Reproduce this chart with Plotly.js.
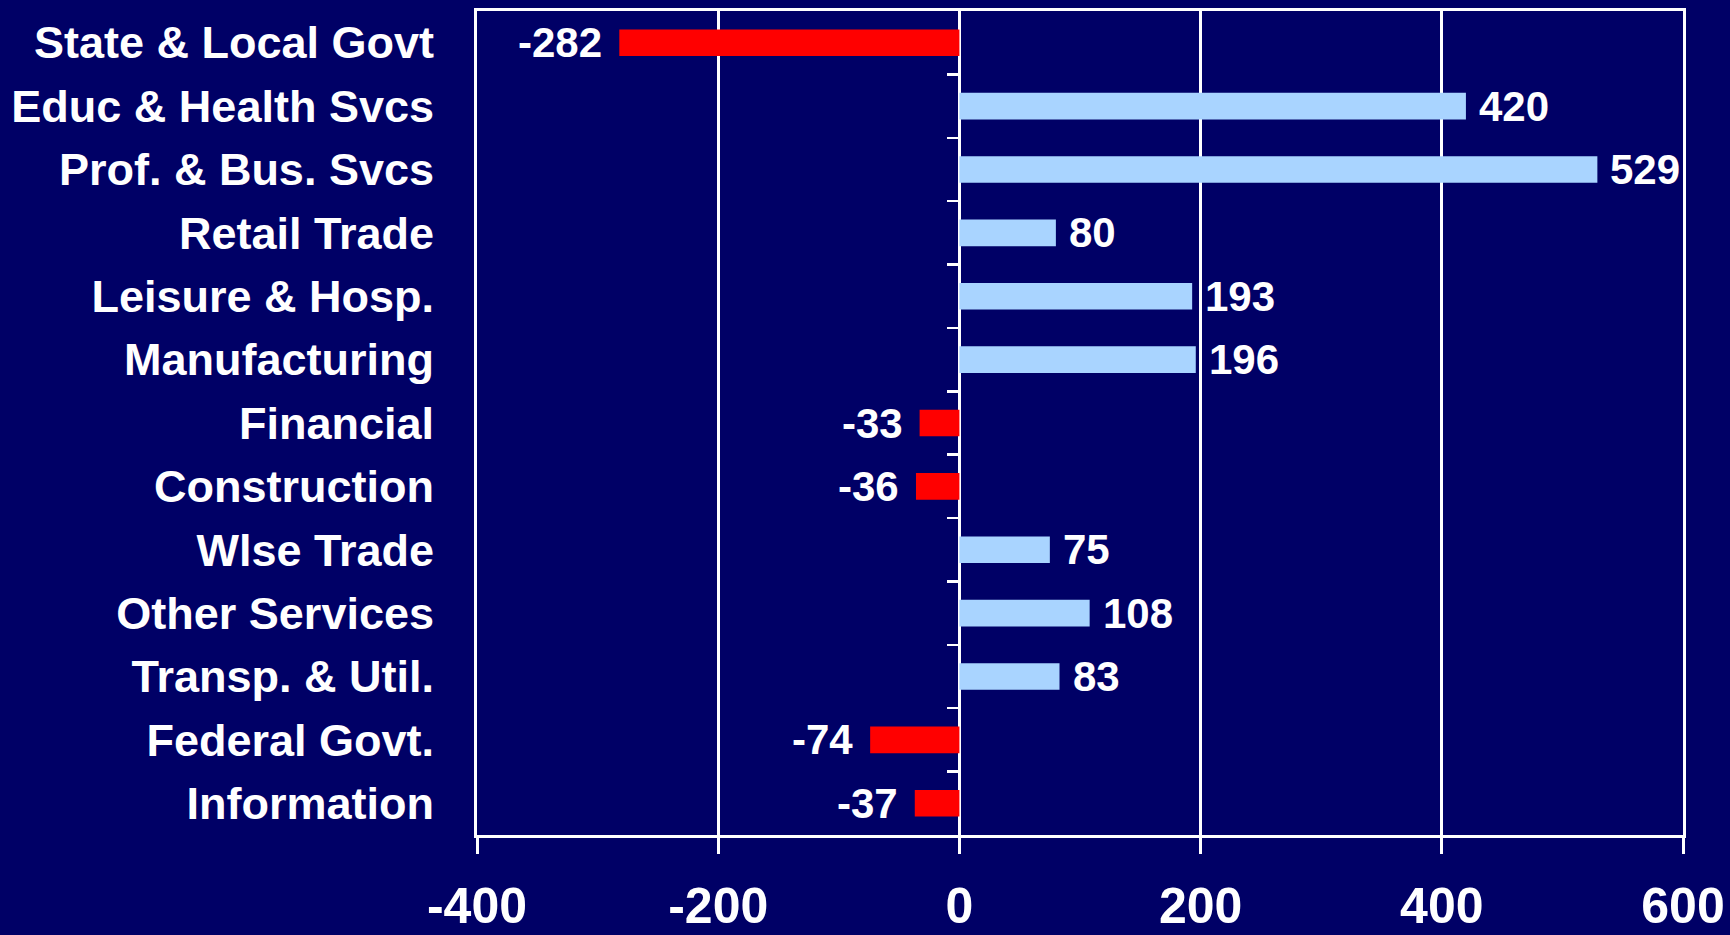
<!DOCTYPE html>
<html>
<head>
<meta charset="utf-8">
<script src="https://cdn.plot.ly/plotly-3.0.1.min.js"></script>
<style>
html,body{margin:0;padding:0;background:#000066;}
#chart{width:1730px;height:935px;}
</style>
</head>
<body>
<div id="chart"></div>
<script>
const categories = ["State & Local Govt","Educ & Health Svcs","Prof. & Bus. Svcs","Retail Trade","Leisure & Hosp.","Manufacturing","Financial","Construction","Wlse Trade","Other Services","Transp. & Util.","Federal Govt.","Information"];
const values = [-282, 420, 529, 80, 193, 196, -33, -36, 75, 108, 83, -74, -37];
const xTicks = [-400, -200, 0, 200, 400, 600];

const FONT = '"Liberation Sans", Arial, sans-serif';
const POS = '#A9D4FF', NEG = '#FF0000', BG = '#000066';
const xRange = [-400, 600];
const n = categories.length;
const yRange = [n - 0.5, -0.5];
const boundaries = categories.slice(1).map((_, i) => i + 0.5);

const trace = {
  type: 'bar', orientation: 'h',
  x: values, y: categories,
  width: 0.42,
  marker: {color: values.map(v => v < 0 ? NEG : POS), line: {width: 0}},
  hoverinfo: 'skip'
};

// invisible helper trace so the category-boundary tick axis at x=0 is drawn
const helper = {
  type: 'scatter', mode: 'markers',
  x: values, y: categories.map((_, i) => i),
  yaxis: 'y2',
  marker: {opacity: 0, size: 1},
  hoverinfo: 'skip', showlegend: false
};

const annotations = values.map((v, i) => ({
  x: v, y: categories[i], xref: 'x', yref: 'y',
  text: String(v), showarrow: false,
  xanchor: v < 0 ? 'right' : 'left',
  xshift: v < 0 ? -15 : 11,
  font: {family: FONT, size: 42, color: '#ffffff', weight: 'bold'}
}));

const layout = {
  width: 1730, height: 935,
  paper_bgcolor: BG, plot_bgcolor: BG,
  margin: {l: 477, r: 47, t: 11, b: 100},
  showlegend: false,
  font: {family: FONT, color: '#ffffff'},
  xaxis: {
    range: xRange, tickvals: xTicks, ticktext: xTicks.map(String),
    showgrid: true, gridcolor: '#ffffff', gridwidth: 3,
    zeroline: true, zerolinecolor: '#ffffff', zerolinewidth: 3,
    showline: true, linecolor: '#ffffff', linewidth: 3, mirror: true,
    ticks: 'outside', ticklen: 16, tickwidth: 3, tickcolor: '#ffffff',
    tickfont: {family: FONT, size: 50, color: '#ffffff', weight: 'bold'},
    ticklabelstandoff: 9
  },
  yaxis: {
    type: 'category', range: yRange,
    categoryorder: 'array', categoryarray: categories,
    showgrid: false, zeroline: false,
    showline: true, linecolor: '#ffffff', linewidth: 3, mirror: true,
    ticks: '',
    tickfont: {family: FONT, size: 45, color: '#ffffff', weight: 'bold'},
    ticklabelstandoff: 31
  },
  yaxis2: {
    overlaying: 'y', anchor: 'free', side: 'left',
    position: (0 - xRange[0]) / (xRange[1] - xRange[0]),
    range: yRange, tickmode: 'array', tickvals: boundaries,
    showticklabels: false, showgrid: false, zeroline: false, showline: false,
    ticks: 'outside', ticklen: 12, tickwidth: 2.5, tickcolor: '#ffffff'
  },
  annotations: annotations
};

Plotly.newPlot('chart', [trace, helper], layout, {staticPlot: true, displayModeBar: false});
</script>
</body>
</html>
